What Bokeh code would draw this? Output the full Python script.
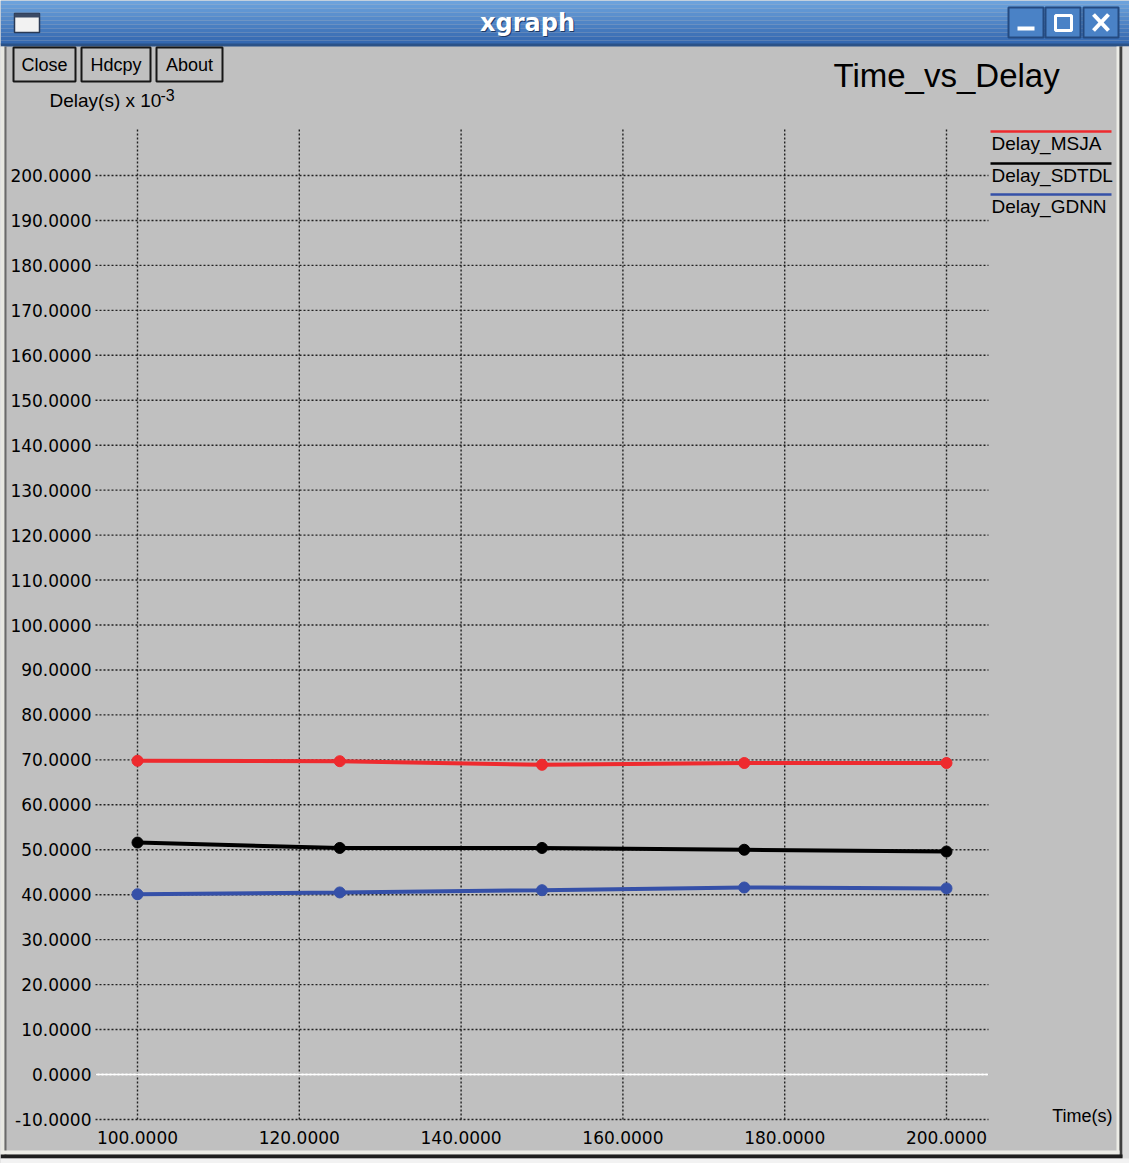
from bokeh.plotting import figure
from bokeh.models import Range1d, LinearAxis, FixedTicker, PrintfTickFormatter
from bokeh.embed import file_html
from bokeh.resources import INLINE
from bokeh.core.properties import value

# ---------------- data ----------------
x_time = [100, 125, 150, 175, 200]
delay_msja = [69.8, 69.7, 68.9, 69.3, 69.3]
delay_sdtdl = [51.6, 50.4, 50.4, 50.0, 49.6]
delay_gdnn = [40.1, 40.5, 41.0, 41.6, 41.4]
series_names = ["Delay_MSJA", "Delay_SDTDL", "Delay_GDNN"]
series_colors = ["#ee2a2e", "#000000", "#3550a8"]
x_ticks = [100, 120, 140, 160, 180, 200]
y_ticks = [-10, 0, 10, 20, 30, 40, 50, 60, 70, 80, 90, 100,
           110, 120, 130, 140, 150, 160, 170, 180, 190, 200]
title_text = "Time_vs_Delay"
x_label = "Time(s)"
y_label = "Delay(s) x 10"
y_label_exp = "-3"
window_title = "xgraph"
button_labels = ["Close", "Hdcpy", "About"]

# ---------------- layout helpers ----------------
REF_W, REF_H = 1129, 1163
W, H = 1129, 1163
S = W / REF_W


def X(px):
    return 100 + (px - 137) * 100 / 809


def Y(py):
    return (1074 - py) / 4.495


def F(px):
    return f"{px * S:.1f}px"


p = figure(width=W, height=H,
           x_range=Range1d(X(0), X(REF_W)), y_range=Range1d(Y(REF_H), Y(0)),
           x_axis_type=None, y_axis_type=None, toolbar_location=None,
           output_backend="svg", min_border=0,
           background_fill_color="#c0c0c0", border_fill_color="#c0c0c0")
p.outline_line_color = None


def box(x0, y0, x1, y1, **kw):
    kw.setdefault("line_color", None)
    p.quad(left=[X(x0)], right=[X(x1)], top=[Y(y0)], bottom=[Y(y1)], **kw)


def txt(px, py, s, size, font="Liberation Sans", color="black", align="left",
        baseline="middle", style="normal"):
    p.text(x=[X(px)], y=[Y(py)], text=[s], text_font=value(font),
           text_font_size=F(size), text_color=color, text_align=align,
           text_baseline=baseline, text_font_style=style)


# ---------------- window chrome ----------------
top_c = (0x6c, 0xa2, 0xdc)
bot_c = (0x34, 0x68, 0xb0)
nb = 11
for i in range(nb):
    t = i / (nb - 1)
    c = tuple(int(top_c[k] + (bot_c[k] - top_c[k]) * t) for k in range(3))
    box(0, i * 4, REF_W, i * 4 + 4, fill_color="#%02x%02x%02x" % c)
box(0, 43, REF_W, 46, fill_color="#2b5287")

# left / right / bottom frame
box(0, 46, 4, 1158, fill_color="#e8e8e2")
box(4, 46, 6, 1156, fill_color="#6a6a6a")
box(1116, 46, 1119, 1153, fill_color="#ecece6")
box(1119, 46, 1122, 1157, fill_color="#404040")
box(1122, 46, REF_W, REF_H, fill_color="#dedede")
box(0, 1150, 1119, 1154, fill_color="#ecece6")
box(0, 1154, 1122, 1158, fill_color="#1e1e1e")
box(0, 1158, REF_W, REF_H, fill_color="#f2f2f2")

# window icon
box(14, 13, 39, 32, fill_color="#f2f2f2", line_color="#2a3a55", line_width=1.5)
box(14, 13, 39, 17, fill_color="#3a4a66")

# title-bar buttons
for (a, b) in [(1008, 1043), (1045, 1080), (1083, 1118)]:
    box(a, 7, b, 37, fill_color="#4a82c6", line_color="#244a80", line_width=2)
box(1017, 26, 1034, 30, fill_color="white")
box(1055, 15, 1071, 30, fill_color=None, line_color="white", line_width=3)
p.segment(x0=[X(1093), X(1108)], y0=[Y(14), Y(14)], x1=[X(1108), X(1093)], y1=[Y(30), Y(30)],
          line_color="white", line_width=4)

# window title
txt(528, 23, window_title, 24, font="DejaVu Sans", color="#1d3a66", align="center", style="bold")
txt(527, 22, window_title, 24, font="DejaVu Sans", color="white", align="center", style="bold")

# xgraph buttons
for lab, (a, b) in zip(button_labels, [(13, 75), (81, 150), (156, 222)]):
    box(a, 47, b, 81, fill_color=None, line_color="#161616", line_width=2)
    txt((a + b) / 2, 64, lab, 18, align="center")

# ---------------- grid ----------------
grid_color = "#222222"
p.segment(x0=x_ticks, y0=[y_ticks[0]] * len(x_ticks), x1=x_ticks, y1=[Y(129)] * len(x_ticks),
          line_color=grid_color, line_width=1.4, line_dash="2 2")
p.segment(x0=[X(95)] * len(y_ticks), y0=y_ticks, x1=[X(988)] * len(y_ticks), y1=y_ticks,
          line_color=grid_color, line_width=1.4, line_dash="2 2")
p.segment(x0=[X(95)], y0=[0], x1=[X(988)], y1=[0], line_color="white", line_width=2.2)

# ---------------- axes ----------------
yaxis = LinearAxis(fixed_location=X(95), ticker=FixedTicker(ticks=y_ticks),
                   formatter=PrintfTickFormatter(format="%.4f"))
xaxis = LinearAxis(fixed_location=y_ticks[0], ticker=FixedTicker(ticks=x_ticks),
                   formatter=PrintfTickFormatter(format="%.4f"))
for ax in (yaxis, xaxis):
    ax.axis_line_color = None
    ax.major_tick_line_color = None
    ax.minor_tick_line_color = None
    ax.major_tick_in = 0
    ax.major_tick_out = 0
    ax.major_label_text_font = "DejaVu Sans"
    ax.major_label_text_font_size = F(17)
    ax.major_label_text_color = "black"
yaxis.major_label_standoff = 4
xaxis.major_label_standoff = 12
p.add_layout(yaxis, "left")
p.add_layout(xaxis, "below")

# ---------------- data series ----------------
for vals, col in zip([delay_msja, delay_sdtdl, delay_gdnn], series_colors):
    p.line(x_time, vals, line_color=col, line_width=4)
    p.scatter(x_time, vals, size=11, fill_color=col, line_color=col)

# ---------------- titles and labels ----------------
txt(833, 75, title_text, 33)
txt(49, 100, y_label, 19)
txt(160, 94, y_label_exp, 16)
txt(1112, 1115, x_label, 18, align="right")

# legend
for i, (name, col) in enumerate(zip(series_names, series_colors)):
    ly = [131, 163, 194][i]
    p.segment(x0=[X(990)], y0=[Y(ly)], x1=[X(1111)], y1=[Y(ly)], line_color=col, line_width=2.5)
    txt(991, ly + 12, name, 19)

open("out.html", "w").write(file_html(p, INLINE))
